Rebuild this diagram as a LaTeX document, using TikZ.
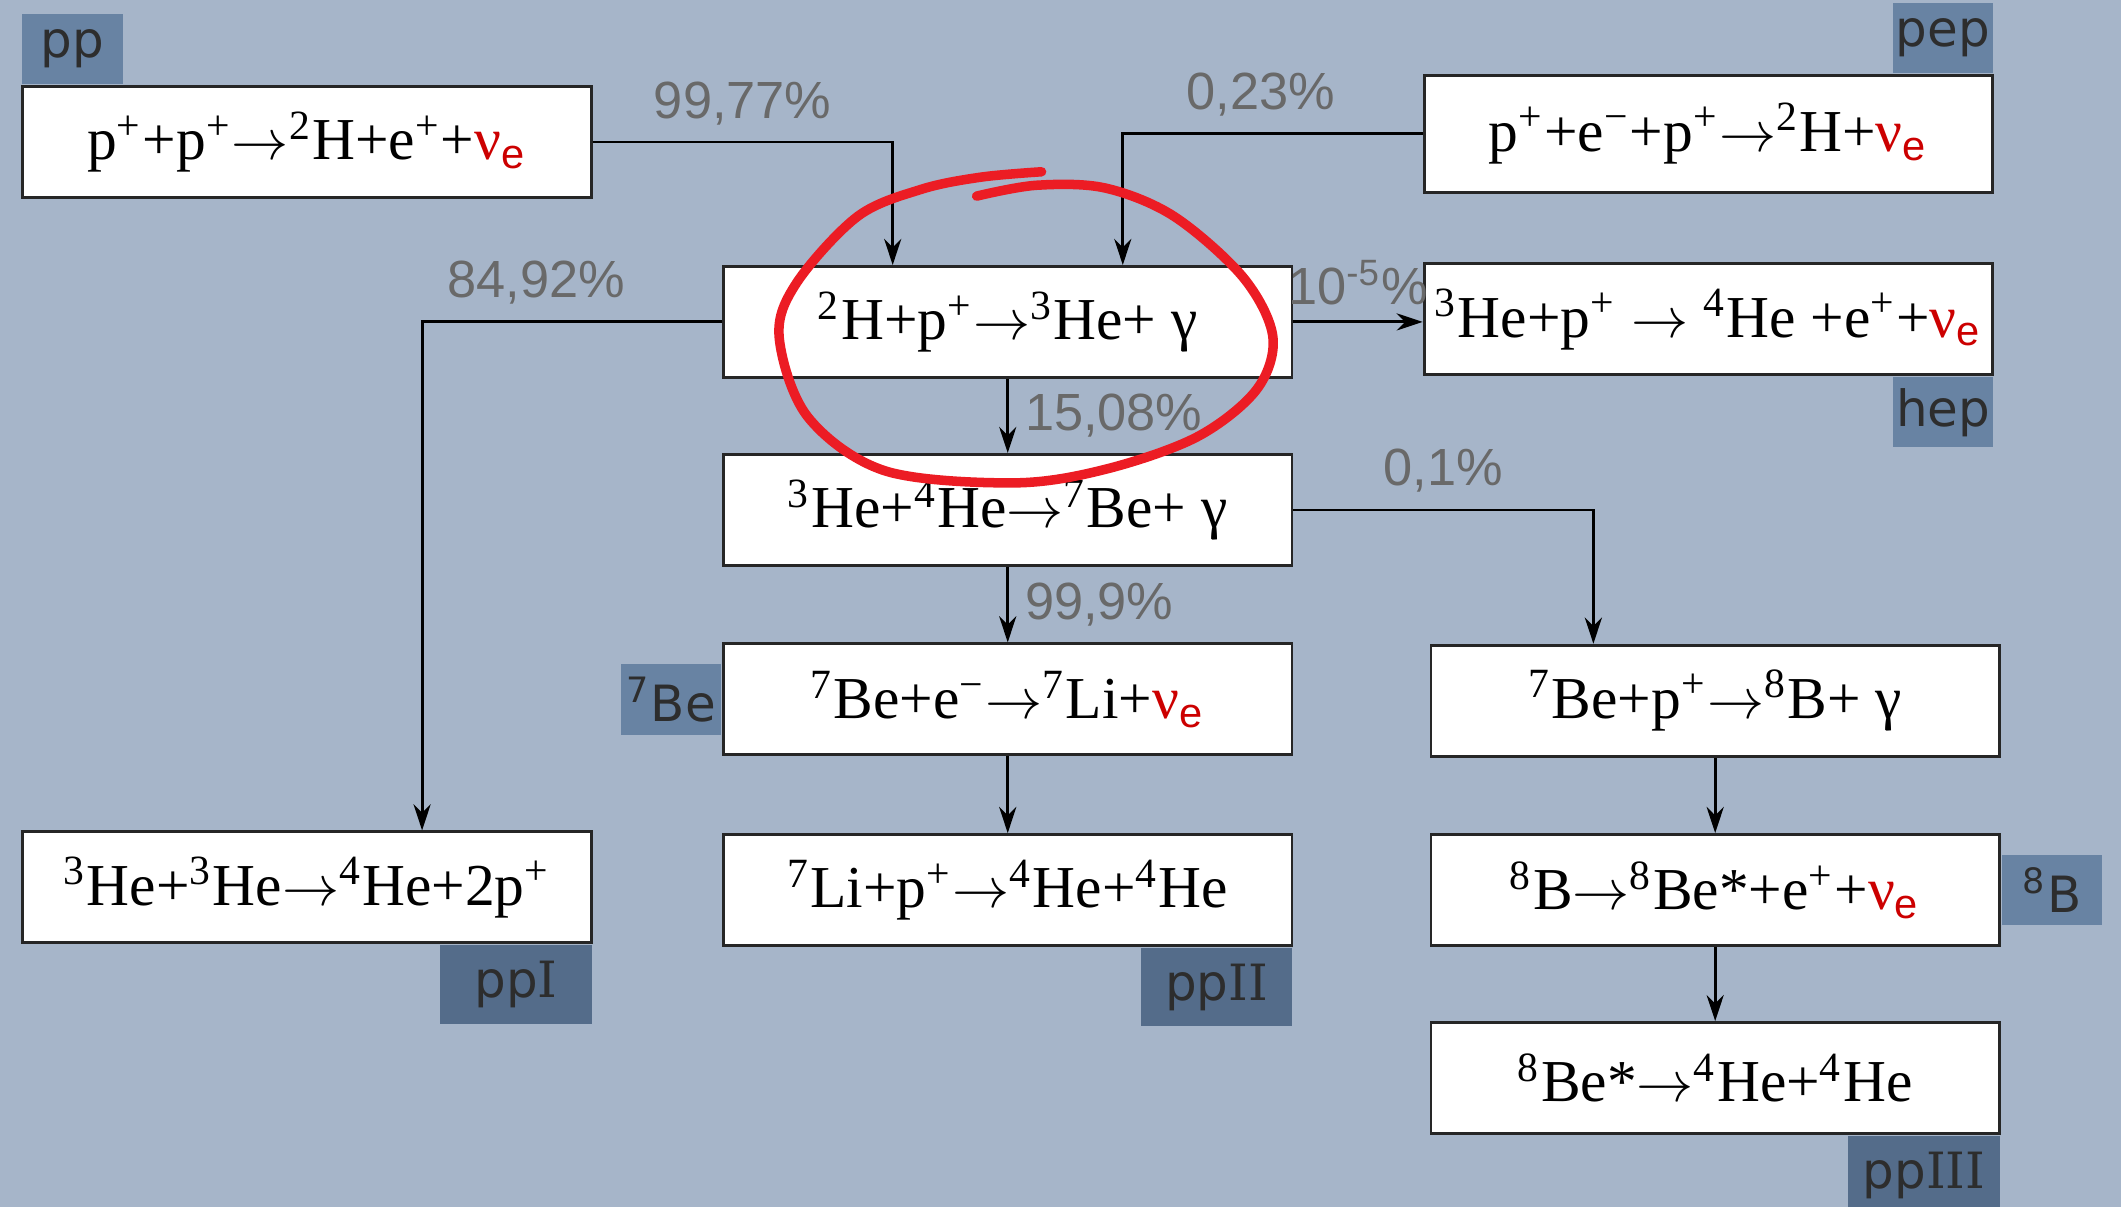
\documentclass[tikz,border=0pt]{standalone}
\usepackage{fontspec}
\setmainfont{Liberation Serif}
\setsansfont{Liberation Sans}
\newfontfamily\tagfont{DejaVu Sans}
\newfontfamily\tagserif{DejaVu Serif}
\usepackage{xcolor}
\usetikzlibrary{arrows.meta, positioning}

\definecolor{bgblue}{RGB}{166,181,201}
\definecolor{taglight}{RGB}{104,131,163}
\definecolor{tagdark}{RGB}{84,108,138}
\definecolor{tagtext}{RGB}{45,45,45}
\definecolor{pctgray}{RGB}{105,105,105}
\definecolor{nured}{RGB}{204,0,0}
\definecolor{ringred}{RGB}{236,28,36}

\newcommand{\iso}[2]{\textsuperscript{#1}#2}
\newcommand{\nue}{\textcolor{nured}{ν\textsubscript{\sffamily e}}}
\newcommand{\yields}{$\rightarrow$}
\newcommand{\romI}{{\tagserif I}}

\begin{document}
\begin{tikzpicture}[
  x=0.01cm, y=-0.01cm,
  >={Stealth[length=5.5pt, width=3.6pt]},
  eq/.style={rectangle, draw=black!85, fill=white, line width=0.6pt, minimum width=4.2cm, minimum height=0.82cm, inner sep=1pt, font=\fontsize{12.5}{15}\selectfont},
  tag/.style={rectangle, fill=taglight, text=tagtext, minimum width=0.74cm, minimum height=0.52cm, inner sep=0pt, font=\tagfont\fontsize{10.5}{12}\selectfont},
  chaintag/.style={tag, fill=tagdark, minimum width=1.12cm, minimum height=0.58cm},
  pct/.style={text=pctgray, font=\sffamily\fontsize{11}{13}\selectfont},
  ring/.style={draw=ringred, line width=2pt, line cap=round, line join=round}
]

\fill[bgblue] (0,0) rectangle (1568,892);
\useasboundingbox (0,0) rectangle (1568,892);

% reactions
\node[eq] (pp) at (227,105) {p\textsuperscript{+}+p\textsuperscript{+}\yields\iso{2}{H}+e\textsuperscript{+}+\nue};
\node[eq, minimum height=0.86cm] (pep) at (1263,99) {p\textsuperscript{+}+e\textsuperscript{−}+p\textsuperscript{+}\yields\iso{2}{H}+\nue};
\node[eq] (dp) at (745,238) {\iso{2}{H}+p\textsuperscript{+}\yields\iso{3}{He}+ γ};
\node[eq] (hep) at (1263,236) {\iso{3}{He}+p\textsuperscript{+} \yields{} \iso{4}{He} +e\textsuperscript{+}+\nue};
\node[eq] (he34) at (745,377) {\iso{3}{He}+\iso{4}{He}\yields\iso{7}{Be}+ γ};
\node[eq] (be7e) at (745,517) {\iso{7}{Be}+e\textsuperscript{−}\yields\iso{7}{Li}+\nue};
\node[eq] (be7p) at (1268,518) {\iso{7}{Be}+p\textsuperscript{+}\yields\iso{8}{B}+ γ};
\node[eq] (he33) at (227,656) {\iso{3}{He}+\iso{3}{He}\yields\iso{4}{He}+2p\textsuperscript{+}};
\node[eq] (li7) at (745,658) {\iso{7}{Li}+p\textsuperscript{+}\yields\iso{4}{He}+\iso{4}{He}};
\node[eq] (b8) at (1268,658) {\iso{8}{B}\yields\iso{8}{Be}*+e\textsuperscript{+}+\nue};
\node[eq] (be8) at (1268,797) {\iso{8}{Be}*\yields\iso{4}{He}+\iso{4}{He}};

% branch tags
\node[tag, anchor=south west] (pptag) at (pp.north west) {pp};
\node[tag, anchor=south east] (peptag) at (pep.north east) {pep};
\node[tag, anchor=north east] (heptag) at (hep.south east) {hep};
\node[tag, anchor=east] (be7tag) at (be7e.west) {\iso{7}{Be}};
\node[tag, anchor=west] (b8tag) at (b8.east) {\iso{8}{B}};
\node[chaintag, anchor=north east] (ppItag) at (he33.south east) {pp\romI};
\node[chaintag, anchor=north east] (ppIItag) at (li7.south east) {pp\romI\romI};
\node[chaintag, anchor=north east] (ppIIItag) at (be8.south east) {pp\romI\romI\romI};

% branches
\draw[->, semithick] (pp.east) -| ([xshift=-0.85cm]dp.north) node[pct, pos=0.25, above] {99,77\%};
\draw[->, semithick] (pep.west) -| ([xshift=0.85cm]dp.north) node[pct, pos=0.27, above] {0,23\%};
\draw[->, semithick] (dp.west) -| ([xshift=0.85cm]he33.north) node[pct, pos=0.31, above] {84,92\%};
\draw[->, semithick] (dp.east) -- (dp.east -| hep.west) node[pct, midway, above] {10\textsuperscript{-5}\%};
\draw[->, semithick] (dp) -- (he34) node[pct, midway, right] {15,08\%};
\draw[->, semithick] (he34) -- (be7e) node[pct, midway, right] {99,9\%};
\draw[->, semithick] (he34.east) -| ([xshift=-0.9cm]be7p.north) node[pct, pos=0.25, above] {0,1\%};
\draw[->, semithick] (be7e) -- (li7);
\draw[->, semithick] (be7p) -- (b8);
\draw[->, semithick] (b8) -- (be8);

% hand-drawn ring
\draw[ring] plot[smooth, tension=0.55] coordinates {(722,145) (766,137) (817,139) (868,160) (919,205) (941,249) (929,288) (885,323) (817,347) (749,357) (654,348) (597,308) (576,249) (589,209) (634,160) (681,140) (725,131) (770,127)};

\end{tikzpicture}
\end{document}
